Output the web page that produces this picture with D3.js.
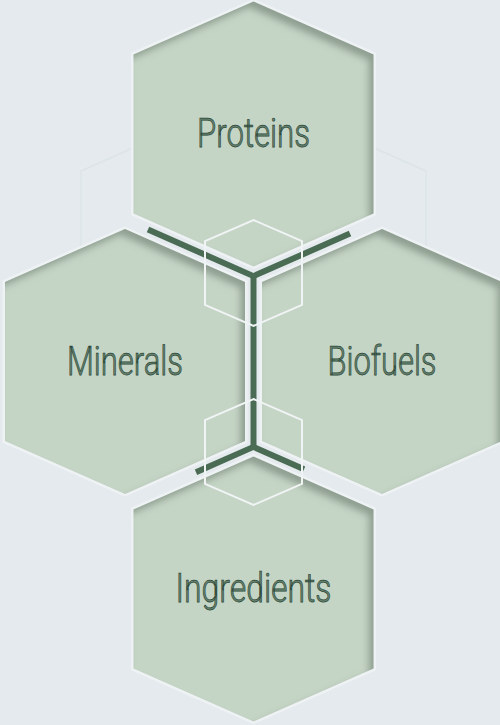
<!DOCTYPE html>
<html>
<head>
<meta charset="utf-8">
<script src="https://cdn.jsdelivr.net/npm/d3@7"></script>
<style>
  html, body { margin: 0; padding: 0; background: #e4eaed; }
  svg { display: block; }
</style>
</head>
<body>
<div id="chart"></div>
<script>
// ---- data ----
const categories = ["Proteins", "Minerals", "Biofuels", "Ingredients"];
const columns = [0.5, 0, 1, 0.5];   // layout slot (column) of each hexagon
const rows = [0, 1, 1, 2];          // layout slot (row) of each hexagon
const labelWidths = [113, 116, 109, 156];

const width = 500, height = 725;
const W = 240, H = 265;

const x = d3.scaleLinear().domain([0, 1]).range([125, 382]);
const y = d3.scaleLinear().domain([0, 2]).range([134, 589]);

const svg = d3.select("#chart").append("svg")
  .attr("width", width).attr("height", height);

const defs = svg.append("defs");
const f = defs.append("filter").attr("id", "inset")
  .attr("x", "-10%").attr("y", "-10%").attr("width", "120%").attr("height", "120%");
f.append("feOffset").attr("in", "SourceAlpha").attr("dx", -5).attr("dy", 6).attr("result", "off");
f.append("feGaussianBlur").attr("in", "off").attr("stdDeviation", 3.5).attr("result", "blur");
f.append("feComposite").attr("operator", "out").attr("in", "SourceAlpha").attr("in2", "blur").attr("result", "inv");
f.append("feFlood").attr("flood-color", "#3a5444").attr("flood-opacity", 0.55).attr("result", "col");
f.append("feComposite").attr("operator", "in").attr("in", "col").attr("in2", "inv").attr("result", "shadow");
const mg = f.append("feMerge");
mg.append("feMergeNode").attr("in", "SourceGraphic");
mg.append("feMergeNode").attr("in", "shadow");

function hexPoints(cx, cy, w, h, cap = 0.2) {
  return [
    [cx, cy - h / 2],
    [cx + w / 2, cy - h / 2 + cap * h],
    [cx + w / 2, cy + h / 2 - cap * h],
    [cx, cy + h / 2],
    [cx - w / 2, cy + h / 2 - cap * h],
    [cx - w / 2, cy - h / 2 + cap * h]
  ];
}
const closed = d3.line().curve(d3.curveLinearClosed);

const hexes = categories.map((c, i) => ({
  name: c, cx: x(columns[i]), cy: y(rows[i]), tw: labelWidths[i]
}));

// faint large background hexagon (upper part only is visible)
const midX = x(0.5);
svg.append("path")
  .attr("d", d3.line()([
    [midX - 172.5, 250], [midX - 172.5, 171], [midX, 94],
    [midX + 172.5, 171], [midX + 172.5, 250]
  ]))
  .attr("fill", "none").attr("stroke", "#d9e1e5").attr("stroke-width", 1.5).attr("opacity", 0.7);

// light halo around hexagons
svg.selectAll("path.halo").data(hexes).join("path")
  .attr("class", "halo")
  .attr("d", d => closed(hexPoints(d.cx, d.cy, W, H)))
  .attr("fill", "none").attr("stroke", "#eef2f4").attr("stroke-width", 5);

// hexagons
svg.selectAll("path.hex").data(hexes).join("path")
  .attr("class", "hex")
  .attr("d", d => closed(hexPoints(d.cx, d.cy, W, H)))
  .attr("fill", "#c4d4c5")
  .attr("filter", "url(#inset)");

// dark connectors in the gaps
const hTop = hexes[0], hLeft = hexes[1], hRight = hexes[2], hBot = hexes[3];
const slope = (0.2 * H) / (W / 2);
const gapX = midX;
function midUpper(px) {
  const yTop = hTop.cy + H / 2 - slope * Math.abs(px - hTop.cx);
  const side = px < hTop.cx ? hLeft : hRight;
  const ySide = side.cy - H / 2 + slope * Math.abs(px - side.cx);
  return (yTop + ySide) / 2;
}
function midLower(px) {
  const yBot = hBot.cy - H / 2 + slope * Math.abs(px - hBot.cx);
  const side = px < hBot.cx ? hLeft : hRight;
  const ySide = side.cy + H / 2 - slope * Math.abs(px - side.cx);
  return (yBot + ySide) / 2;
}
const jTop = [gapX, midUpper(gapX - 0.01)];
const jBot = [gapX, midLower(gapX - 0.01)];
const connectors = [
  [[148, midUpper(148)], jTop],
  [jTop, [350, midUpper(350)]],
  [jTop, jBot],
  [[196, midLower(196)], jBot],
  [jBot, [304, midLower(304)]]
];
svg.selectAll("path.conn").data(connectors).join("path")
  .attr("class", "conn")
  .attr("d", d => d3.line()(d))
  .attr("fill", "none").attr("stroke", "#4b6c54").attr("stroke-width", 6);

// small outlined hexagons at the junctions
const small = [[gapX, 273], [gapX, 452]];
svg.selectAll("path.small").data(small).join("path")
  .attr("class", "small")
  .attr("d", d => closed(hexPoints(d[0], d[1], 97, 106)))
  .attr("fill", "none").attr("stroke", "#f1f4f5").attr("stroke-width", 2);

// labels
svg.selectAll("text.lbl").data(hexes).join("text")
  .attr("class", "lbl")
  .attr("x", d => d.cx).attr("y", d => d.cy + 13)
  .attr("text-anchor", "middle")
  .attr("textLength", d => d.tw)
  .attr("lengthAdjust", "spacingAndGlyphs")
  .style("font-family", "Roboto, 'Noto Sans', sans-serif")
  .style("font-size", "40px")
  .style("font-weight", 300)
  .attr("fill", "#678471")
  .attr("stroke", "#2a4535").attr("stroke-width", 0.75)
  .text(d => d.name);
</script>
</body>
</html>
